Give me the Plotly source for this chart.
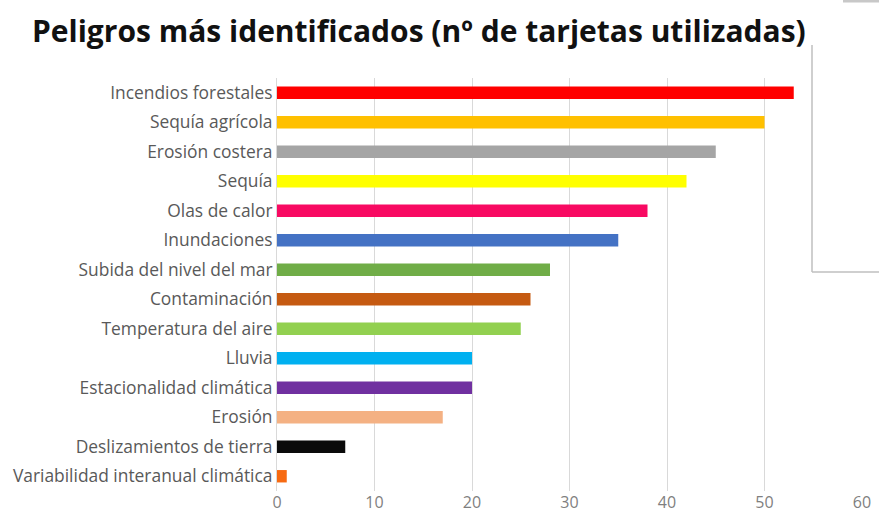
import plotly.graph_objects as go

categories = [
    "Incendios forestales", "Sequía agrícola", "Erosión costera", "Sequía",
    "Olas de calor", "Inundaciones", "Subida del nivel del mar", "Contaminación",
    "Temperatura del aire", "Lluvia", "Estacionalidad climática", "Erosión",
    "Deslizamientos de tierra", "Variabilidad interanual climática",
]
values = [53, 50, 45, 42, 38, 35, 28, 26, 25, 20, 20, 17, 7, 1]
colors = [
    "#FF0000", "#FFC000", "#A5A5A5", "#FFFF00", "#F80A62", "#4472C4", "#70AD47",
    "#C55A11", "#92D050", "#00B0F0", "#7030A0", "#F4B183", "#0A0A0A", "#F76A12",
]
x_ticks = [0, 10, 20, 30, 40, 50, 60]

fig = go.Figure(go.Bar(
    x=values, y=categories, orientation="h",
    marker=dict(color=colors, line=dict(width=0)),
    width=0.42,
))

W, H = 879, 515
L, R, T, B = 277, 17, 78, 24
pw, ph = W - L - R, H - T - B


def px_x(x):
    return (x - L) / pw


def px_y(y):
    return (H - B - y) / ph


fig.update_layout(
    width=W, height=H,
    margin=dict(l=L, r=R, t=T, b=B, autoexpand=False),
    paper_bgcolor="white", plot_bgcolor="white",
    showlegend=False,
    title=dict(
        text="<b>Peligros más identificados (nº de tarjetas utilizadas)</b>",
        font=dict(family="Open Sans", size=30, color="#111111"),
        xref="container", yref="container",
        x=32 / W, xanchor="left", y=1 - 31 / H, yanchor="middle",
    ),
    xaxis=dict(
        range=[0, 60], tickvals=x_ticks, showgrid=True, gridcolor="#D9D9D9",
        gridwidth=1, zeroline=False, showline=False,
        tickfont=dict(family="Open Sans", size=16, color="#7F7F7F"),
        ticks="", fixedrange=True,
    ),
    yaxis=dict(
        autorange="reversed", showline=True, linecolor="#D9D9D9", linewidth=1,
        tickfont=dict(family="Open Sans", size=17.4, color="#595959"),
        ticks="", showgrid=False, fixedrange=True,
    ),
    shapes=[
        dict(type="line", xref="paper", yref="paper",
             x0=px_x(812), x1=px_x(812), y0=px_y(45), y1=px_y(272),
             line=dict(color="#BFBFBF", width=1.5)),
        dict(type="line", xref="paper", yref="paper",
             x0=px_x(812), x1=px_x(879), y0=px_y(272), y1=px_y(272),
             line=dict(color="#BFBFBF", width=1.5)),
        dict(type="line", xref="paper", yref="paper",
             x0=px_x(843), x1=px_x(879), y0=px_y(1), y1=px_y(1),
             line=dict(color="#C8C8C8", width=3)),
    ],
)

fig.write_html(
    "out.html",
    config={"displayModeBar": False},
    post_script="document.body.style.margin='0';document.body.style.overflow='hidden';",
)
